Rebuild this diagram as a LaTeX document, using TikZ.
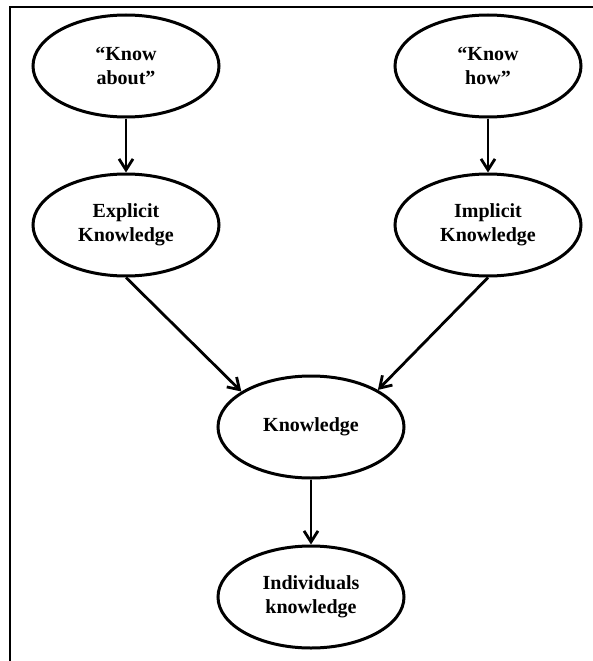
\documentclass[tikz,border=0pt]{standalone}
\usepackage{fontspec}
\setmainfont{Liberation Serif}
\usetikzlibrary{arrows.meta,shapes.geometric}
\begin{document}
\begin{tikzpicture}[x=1pt,y=-1pt,
  bub/.style={draw, line width=3pt, ellipse, minimum width=186pt, minimum height=102pt, inner sep=0pt,
    align=center, font=\bfseries\fontsize{20}{24}\selectfont},
  conn/.style={line width=2.8pt, -{Straight Barb[length=11pt,width=14pt,line width=2.8pt]}}]
\useasboundingbox (0,0) rectangle (593,661);
\fill[white] (0,0) rectangle (593,661);
\coordinate (tl) at (10,7);
\coordinate (tr) at (593,7);
\coordinate (bl) at (10,661);
\draw[line width=2.2pt] (tr) -- (tl) -- (bl);
\node[bub] (ka) at (126,66) {``Know\\about''};
\node[bub] (kh) at (488,66) {``Know\\how''};
\node[bub] (ex) at (126,225) {Explicit\\Knowledge};
\node[bub] (im) at (488,225) {Implicit\\Knowledge};
\node[bub] (kn) at (311,427) {Knowledge};
\node[bub] (ind) at (311,597) {Individuals\\knowledge};
\draw[conn] (ka.south) -- (ex.north);
\draw[conn] (kh.south) -- (im.north);
\draw[conn] (ex.south) -- (kn.153);
\draw[conn] (im.south) -- (kn.29);
\draw[conn] (kn.south) -- (ind.north);
\end{tikzpicture}
\end{document}
